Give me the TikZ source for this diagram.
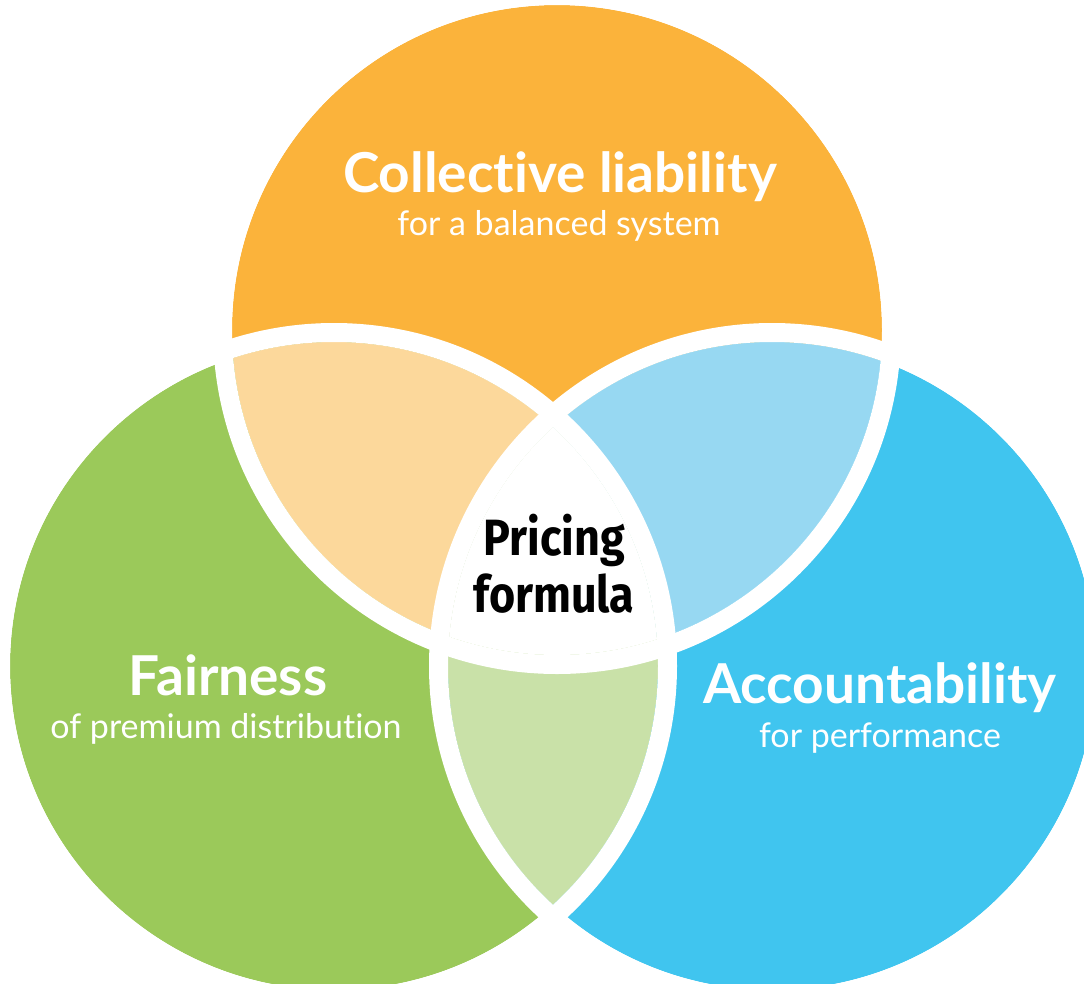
\documentclass[tikz,border=0pt]{standalone}
\usepackage{fontspec}
\newfontfamily\latofont{Lato}[Ligatures={NoCommon}]
\newfontfamily\firafont{Fira Sans}
\definecolor{corange}{HTML}{FBB33B}
\definecolor{lorange}{HTML}{FCD89B}
\definecolor{cgreen}{HTML}{9BC95A}
\definecolor{lgreen}{HTML}{C9E1A8}
\definecolor{cblue}{HTML}{40C5EF}
\definecolor{lblue}{HTML}{97D8F2}
\tikzset{
  title/.style={text=white, font=\latofont\bfseries\fontsize{55}{60}\selectfont, anchor=base, inner sep=0pt},
  subtitle/.style={text=white, font=\latofont\fontsize{34}{40}\selectfont, anchor=base, inner sep=0pt},
  center text/.style={text=black, font=\firafont\bfseries\fontsize{51}{56}\selectfont, anchor=base, inner sep=0pt},
  ring/.style={draw=white, line width=19pt}
}
\begin{document}
\begin{tikzpicture}[x=1pt,y=-1pt]
\useasboundingbox (0,0) rectangle (1084,983);
\clip (0,0) rectangle (1084,983);
\fill[white] (0,0) rectangle (1084,983);
\coordinate (O) at (557,330);
\coordinate (G) at (334,666);
\coordinate (B) at (772,666);
% base circles
\fill[corange] (O) circle[radius=325pt];
\fill[cgreen] (G) circle[radius=324pt];
\fill[cblue] (B) circle[radius=324pt];
% pairwise overlaps
\begin{scope}
  \clip (O) circle[radius=325pt];
  \fill[lorange] (G) circle[radius=324pt];
  \fill[lblue] (B) circle[radius=324pt];
\end{scope}
\begin{scope}
  \clip (G) circle[radius=324pt];
  \fill[lgreen] (B) circle[radius=324pt];
\end{scope}
% triple overlap
\begin{scope}
  \clip (O) circle[radius=325pt];
  \clip (G) circle[radius=324pt];
  \fill[white] (B) circle[radius=324pt];
\end{scope}
% white separating rings
\draw[ring] (O) circle[radius=334.5pt];
\draw[ring] (G) circle[radius=333.5pt];
\draw[ring] (B) circle[radius=333.5pt];
% texts
\node[title] (t1) at (560,192) {Collective liability};
\node[subtitle] (s1) at (559,235) {for a balanced system};
\node[title] (t2) at (228,695) {Fairness};
\node[subtitle] (s2) at (226,738) {of premium distribution};
\node[title] (t3) at (880,703) {Accountability};
\node[subtitle] (s3) at (880,747) {for performance};
\node[center text] (c1) at (554,555) {\scalebox{0.88}[1]{Pricing}};
\node[center text] (c2) at (554,612) {\scalebox{0.88}[1]{formula}};
\end{tikzpicture}
\end{document}
